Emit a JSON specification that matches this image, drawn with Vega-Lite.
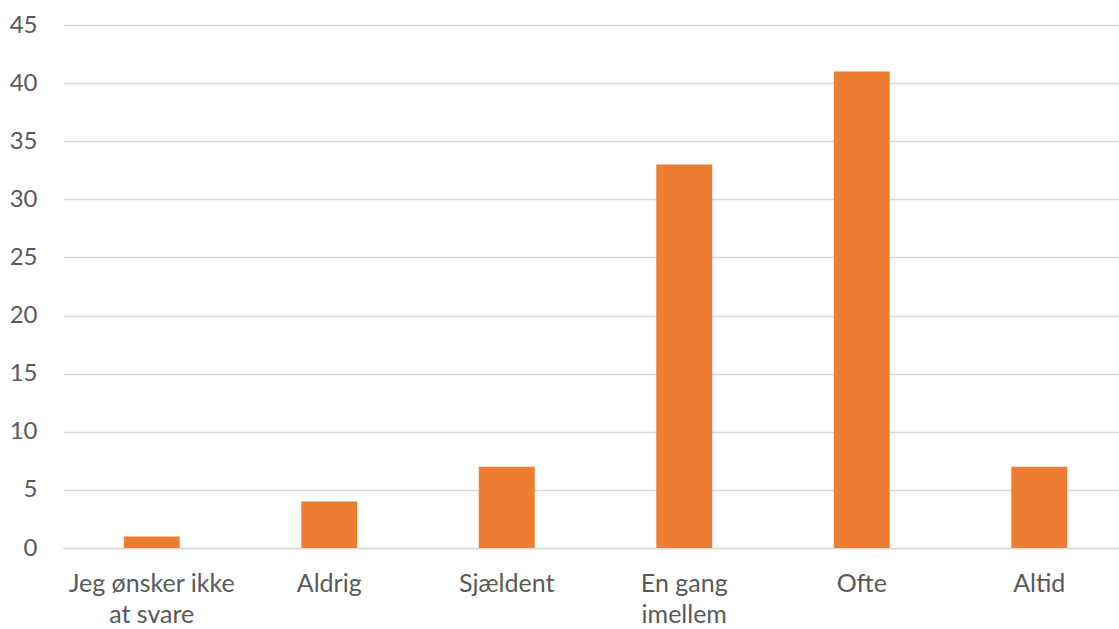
{
  "$schema": "https://vega.github.io/schema/vega-lite/v6.json",
  "autosize": {"type": "none"},
  "width": 1065,
  "height": 523,
  "padding": {"left": 63, "top": 25, "right": 0, "bottom": 81},
  "background": "white",
  "data": {
    "values": [
      {"kategori": "Jeg ønsker ikke|at svare", "antal": 1},
      {"kategori": "Aldrig", "antal": 4},
      {"kategori": "Sjældent", "antal": 7},
      {"kategori": "En gang|imellem", "antal": 33},
      {"kategori": "Ofte", "antal": 41},
      {"kategori": "Altid", "antal": 7}
    ]
  },
  "mark": {"type": "bar", "color": "#ED7D31"},
  "encoding": {
    "x": {
      "field": "kategori",
      "type": "nominal",
      "sort": null,
      "scale": {"paddingInner": 0.685, "paddingOuter": 0.3425},
      "axis": {
        "title": null,
        "labelAngle": 0,
        "labelExpr": "split(datum.label, '|')",
        "labelFont": "Lato",
        "labelFontSize": 25,
        "labelColor": "#595959",
        "labelPadding": 23,
        "labelLineHeight": 31,
        "ticks": false,
        "domainColor": "#d9d9d9",
        "domainWidth": 1.5
      }
    },
    "y": {
      "field": "antal",
      "type": "quantitative",
      "scale": {"domain": [0, 45], "nice": false},
      "axis": {
        "title": null,
        "values": [0, 5, 10, 15, 20, 25, 30, 35, 40, 45],
        "labelFont": "Lato",
        "labelFontSize": 24,
        "labelColor": "#595959",
        "labelPadding": 26,
        "ticks": false,
        "domain": false,
        "gridColor": "#d9d9d9",
        "gridWidth": 1.5
      }
    }
  },
  "config": {"view": {"stroke": null}}
}
